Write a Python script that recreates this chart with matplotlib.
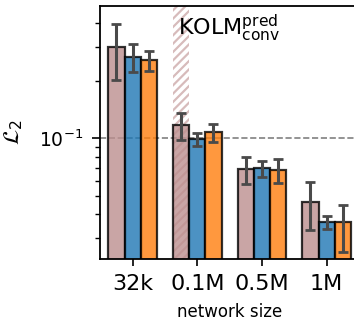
import numpy as np
import matplotlib
matplotlib.use('Agg')
import matplotlib.pyplot as plt

sizes = ['32k', '0.1M', '0.5M', '1M']
series_colors = ['rosybrown', 'tab:blue', 'tab:orange']

# mean values and error bar ends (low, high) per series
vals = [
    [0.300, 0.117, 0.069, 0.0462],
    [0.266, 0.0992, 0.0696, 0.0364],
    [0.256, 0.108, 0.0684, 0.0364],
]
err_lo = [
    [0.202, 0.0976, 0.0578, 0.0329],
    [0.223, 0.0915, 0.0627, 0.0333],
    [0.225, 0.0956, 0.0583, 0.0254],
]
err_hi = [
    [0.396, 0.135, 0.080, 0.0590],
    [0.311, 0.106, 0.0757, 0.0390],
    [0.287, 0.119, 0.0776, 0.0449],
]
highlight = 1  # index of highlighted network size
ref_line = 0.1

plt.rcParams['hatch.linewidth'] = 1.6

fig = plt.figure(figsize=(3.54, 3.24), dpi=100)
ax = fig.add_axes([100/354, 65/324, 259/354, 253/324])

x = np.arange(len(sizes))
w = 0.25

# hatched highlight behind the first series bar
ax.bar(x[highlight] - w, 10, w, bottom=1e-3, facecolor='none',
       edgecolor=(0.74, 0.56, 0.56, 0.6), hatch='////', linewidth=0, zorder=1)

for i in range(3):
    v = np.array(vals[i])
    lo = v - np.array(err_lo[i])
    hi = np.array(err_hi[i]) - v
    ax.bar(x + (i - 1) * w, v, w, color=series_colors[i], alpha=0.8,
           edgecolor='k', linewidth=1.6, zorder=2)
    ax.errorbar(x + (i - 1) * w, v, yerr=[lo, hi], fmt='none',
                ecolor='#4a4a4a', elinewidth=2.2, capsize=3.5, capthick=2, zorder=3)

ax.axhline(ref_line, color='gray', ls='--', lw=1.2, zorder=0)

ax.set_yscale('log')
ax.set_ylim(0.0233, 0.494)
ax.set_xlim(-0.505, 3.5)
ax.set_xticks(x)
ax.set_xticklabels(sizes, fontsize=16)
ax.tick_params(axis='y', which='major', labelsize=13.5, length=6, width=1.2, pad=6)
ax.tick_params(axis='y', which='minor', length=3.5, width=1)
ax.tick_params(axis='x', length=5, width=1.2, pad=6)
for s in ax.spines.values():
    s.set_linewidth(1.3)

ax.set_xlabel('network size', fontsize=12, labelpad=6)
ax.set_ylabel(r'$\mathcal{L}_2$', fontsize=16, labelpad=10)

ax.text(0.70, 0.348, r'KOLM$^{\mathrm{pred}}_{\mathrm{conv}}$', fontsize=16,
        ha='left', va='baseline', transform=ax.transData)

fig.savefig('out.png', dpi=100)
